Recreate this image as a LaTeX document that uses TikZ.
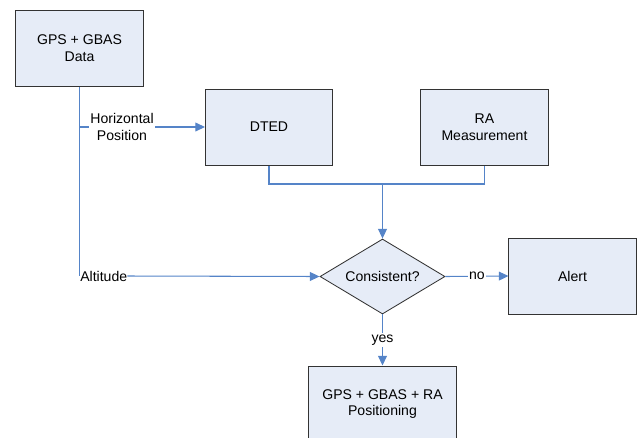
\documentclass[tikz,border=0pt]{standalone}
\usepackage{fontspec}
\setmainfont{Liberation Sans}
\usepackage{xcolor}
\usepackage{tikz}
\usetikzlibrary{shapes.geometric, arrows.meta}

\definecolor{boxfill}{HTML}{E6ECF7}
\definecolor{boxline}{HTML}{333333}
\definecolor{linkblue}{HTML}{5584C8}

\tikzset{
    block/.style={draw=boxline, fill=boxfill, line width=0.7pt, align=center,
        minimum width=3.175cm, minimum height=1.9cm, inner sep=0pt},
    decision/.style={diamond, draw=boxline, fill=boxfill, line width=0.6pt,
        aspect=1.667, minimum width=3.125cm, minimum height=1.875cm, inner sep=0pt},
    link/.style={draw=linkblue, line width=0.75pt},
    flow/.style={link, -{Triangle[length=2.4mm, width=2.2mm]}},
    lbl/.style={align=center, inner sep=1pt},
}

\begin{document}
\begin{tikzpicture}[x=0.025cm, y=-0.025cm,
    every node/.style={font=\fontsize{10}{12}\selectfont}]
        \clip (0,0) rectangle (640,437);

        % Boxes
        \node[block] (data) at (79.5,48) {GPS + GBAS\\Data};
        \node[block] (dted) at (269,127) {DTED};
        \node[block] (ra) at (484.5,127) {RA\\Measurement};
        \node[decision] (dia) at (382.5,276.5) {Consistent?};
        \node[block] (alert) at (572.5,276) {Alert};
        \node[block, minimum width=3.675cm] (pos) at (382.5,404) {GPS + GBAS + RA\\Positioning};

        % Inputs from the GPS + GBAS data
        \node[lbl, fill=white] (hp) at (122,127) {Horizontal\\Position};
        \node[lbl, anchor=west, inner sep=0pt] (alt) at (80,276) {Altitude};
        \draw[link] (data.south) -- (data.south |- alt.west);
        \draw[link] (data.south |- hp) -- (hp.west);
        \draw[flow] (hp.east) -- (dted.west);
        \draw[flow] (alt.east) -- (dia.west);

        % DTED and RA merge into the check
        \coordinate (join) at (382.5,184);
        \draw[link] (dted.south) |- (join) -| (ra.south);
        \draw[flow] (join) -- (dia.north);

        % Outcomes
        \draw[flow] (dia.east) -- node[lbl, fill=white] {no} (alert.west);
        \draw[flow] (dia.south) -- node[lbl, fill=white] {yes} (pos.north);
    \end{tikzpicture}
\end{document}
